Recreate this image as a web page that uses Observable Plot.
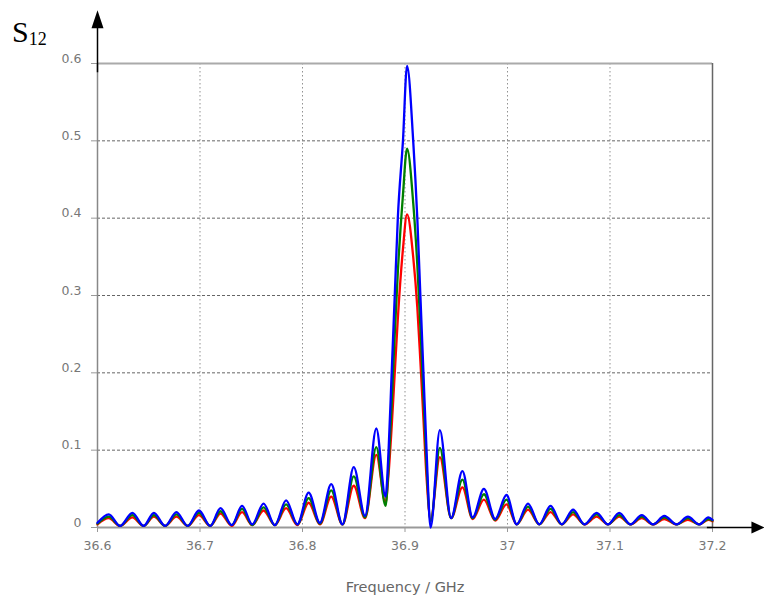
<!DOCTYPE html>
<html>
<head>
<meta charset="utf-8">
<script src="https://cdn.jsdelivr.net/npm/d3@7"></script>
<script src="https://cdn.jsdelivr.net/npm/@observablehq/plot@0.6"></script>
<style>
  body { margin: 0; background: #fff; }
  #wrap { position: relative; width: 764px; height: 601px; }
  #s12 { position: absolute; left: 12px; top: 17px; font-family: "Liberation Serif", serif; color: #000; line-height: 1; white-space: nowrap; }
  #s12 .s { font-size: 30px; }
  #s12 .sub { font-size: 18px; position: relative; top: 3px; }
</style>
</head>
<body>
<div id="wrap">
  <div id="chart"></div>
  <div id="s12"><span class="s">S</span><span class="sub">12</span></div>
</div>
<script>
// Frequency samples (GHz): side-lobe peaks/troughs and main-lobe points
const freq = [36.600, 36.611, 36.622, 36.634, 36.645, 36.655, 36.666, 36.677, 36.688, 36.699,
  36.710, 36.720, 36.731, 36.741, 36.751, 36.762, 36.773, 36.784, 36.795, 36.806,
  36.817, 36.828, 36.839, 36.850, 36.861, 36.872, 36.881, 36.884, 36.887, 36.890,
  36.893, 36.898, 36.902, 36.908, 36.912, 36.915, 36.918, 36.921, 36.925, 36.934,
  36.945, 36.956, 36.966, 36.977, 36.988, 36.999, 37.009, 37.020, 37.031, 37.042,
  37.053, 37.064, 37.075, 37.087, 37.098, 37.109, 37.120, 37.131, 37.142, 37.153,
  37.165, 37.176, 37.187, 37.196, 37.200];

const blueS12 = [0.006, 0.017, 0.002, 0.019, 0.002, 0.019, 0.002, 0.020, 0.002, 0.022,
  0.002, 0.025, 0.003, 0.028, 0.004, 0.031, 0.003, 0.035, 0.004, 0.045,
  0.006, 0.056, 0.004, 0.078, 0.015, 0.128, 0.040, 0.100, 0.200, 0.300,
  0.400, 0.500, 0.597, 0.500, 0.400, 0.300, 0.200, 0.100, 0.000, 0.126,
  0.012, 0.073, 0.013, 0.050, 0.011, 0.042, 0.004, 0.031, 0.004, 0.028,
  0.004, 0.023, 0.004, 0.019, 0.004, 0.019, 0.004, 0.016, 0.004, 0.015,
  0.004, 0.014, 0.004, 0.013, 0.010];

const greenS12 = [0.005, 0.014, 0.002, 0.016, 0.002, 0.016, 0.002, 0.017, 0.002, 0.019,
  0.002, 0.021, 0.003, 0.024, 0.003, 0.026, 0.003, 0.030, 0.004, 0.038,
  0.005, 0.048, 0.004, 0.066, 0.013, 0.104, 0.028, 0.080, 0.160, 0.250,
  0.330, 0.430, 0.490, 0.420, 0.340, 0.260, 0.170, 0.080, 0.008, 0.103,
  0.012, 0.062, 0.012, 0.043, 0.010, 0.036, 0.004, 0.027, 0.004, 0.024,
  0.004, 0.020, 0.004, 0.017, 0.004, 0.016, 0.004, 0.014, 0.004, 0.013,
  0.004, 0.012, 0.004, 0.011, 0.009];

const redS12 = [0.004, 0.012, 0.002, 0.013, 0.002, 0.014, 0.002, 0.014, 0.002, 0.016,
  0.002, 0.018, 0.002, 0.020, 0.003, 0.022, 0.003, 0.025, 0.003, 0.032,
  0.004, 0.040, 0.004, 0.054, 0.012, 0.094, 0.032, 0.070, 0.130, 0.200,
  0.270, 0.360, 0.405, 0.350, 0.285, 0.215, 0.140, 0.065, 0.010, 0.091,
  0.012, 0.052, 0.011, 0.036, 0.009, 0.030, 0.004, 0.023, 0.004, 0.020,
  0.004, 0.017, 0.004, 0.014, 0.004, 0.014, 0.004, 0.012, 0.004, 0.011,
  0.004, 0.010, 0.004, 0.010, 0.008];

const xTicks = [36.6, 36.7, 36.8, 36.9, 37.0, 37.1, 37.2];
const xTickLabels = ["36.6", "36.7", "36.8", "36.9", "37", "37.1", "37.2"];
const yTicks = [0, 0.1, 0.2, 0.3, 0.4, 0.5, 0.6];
const yTickLabels = ["0", "0.1", "0.2", "0.3", "0.4", "0.5", "0.6"];
const xLabel = "Frequency / GHz";

const series = [
  {name: "red", values: redS12, color: "#e0281e"},
  {name: "green", values: greenS12, color: "#1fa01f"},
  {name: "blue", values: blueS12, color: "#2020c8"}
];

const rows = series.flatMap(s => freq.map((f, i) => ({f, v: s.values[i], name: s.name})));

// Filled arrowheads with tip at the origin
const headUp = {draw(ctx) { ctx.moveTo(0, 0); ctx.lineTo(6, 18); ctx.lineTo(-6, 18); ctx.closePath(); }};
const headRight = {draw(ctx) { ctx.moveTo(0, 0); ctx.lineTo(-13, 6); ctx.lineTo(-13, -6); ctx.closePath(); }};

const x0 = xTicks[0], x1 = xTicks[xTicks.length - 1];
const y0 = yTicks[0], y1 = yTicks[yTicks.length - 1];

const chart = Plot.plot({
  width: 764,
  height: 601,
  marginLeft: 97,
  marginRight: 52,
  marginTop: 63,
  marginBottom: 74,
  style: {fontFamily: "DejaVu Sans, sans-serif", fontSize: "12px", background: "#fff"},
  x: {domain: [x0, x1]},
  y: {domain: [y0, y1]},
  color: {domain: series.map(s => s.name), range: series.map(s => s.color)},
  marks: [
    Plot.gridY(yTicks.slice(1, -1), {stroke: "#555", strokeOpacity: 0.9, strokeDasharray: "3,2"}),
    Plot.gridX(xTicks.slice(1, -1), {stroke: "#777", strokeOpacity: 0.8, strokeDasharray: "1.5,2.5"}),
    Plot.axisY({ticks: yTicks, tickFormat: (d, i) => yTickLabels[i], tickSize: 0, tickPadding: 16, dy: -5, fill: "#777", fontSize: 12.5, label: null}),
    Plot.axisY({ticks: yTicks, tickFormat: () => "", tickSize: 6, stroke: "#999", label: null}),
    Plot.axisX({ticks: xTicks, tickFormat: (d, i) => xTickLabels[i], tickSize: 5, tickPadding: 9, stroke: "#999", fill: "#777", fontSize: 12.5, label: null}),
    Plot.text([xLabel], {frameAnchor: "bottom", dy: 60, text: d => d, fill: "#666", fontSize: 14.5, lineAnchor: "middle"}),
    // frame
    Plot.ruleY([y1], {stroke: "#aaa", strokeWidth: 2}),
    Plot.ruleX([x1], {stroke: "#666", strokeWidth: 1.5}),
    Plot.ruleX([x0], {stroke: "#888", strokeWidth: 1.5}),
    Plot.ruleY([y0], {stroke: "#999", strokeWidth: 2}),
    // data
    Plot.line(rows, {x: "f", y: "v", z: "name", stroke: "name", strokeWidth: 2.3, curve: "monotone-x"}),
    // black axis arrows
    Plot.ruleX([x0], {y1: 0.588, y2: 0.66, stroke: "#000", strokeWidth: 1.5}),
    Plot.dot([{x: x0, y: 0.669}], {x: "x", y: "y", symbol: headUp, fill: "#000", stroke: "none"}),
    Plot.ruleY([y0], {x1: 37.195, x2: 37.245, stroke: "#000", strokeWidth: 1.5}),
    Plot.dot([{x: 37.2507, y: y0}], {x: "x", y: "y", symbol: headRight, fill: "#000", stroke: "none"})
  ]
});
document.getElementById("chart").appendChild(chart);
</script>
</body>
</html>
